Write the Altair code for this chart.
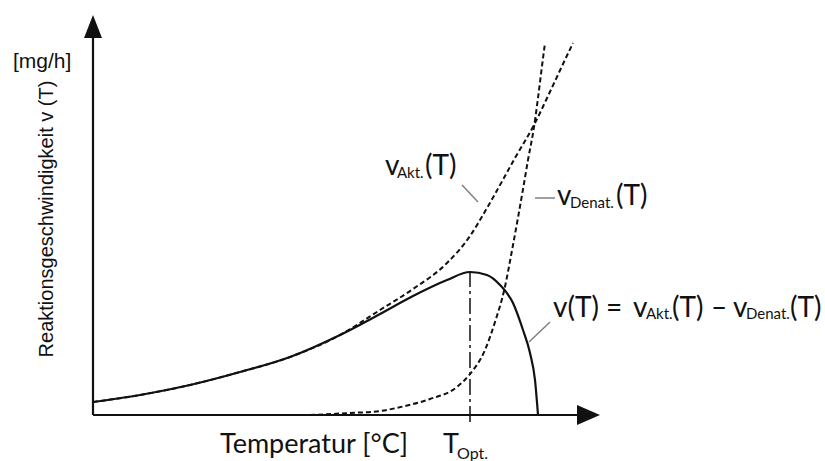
import altair as alt
import pandas as pd

# ---- curve samples (x: temperature units, y: rate units) ----
T_akt = [0, 47, 97, 147, 197, 247, 287, 320, 354, 377, 394, 402, 422, 441, 455, 470, 480]
v_akt = [13, 20, 30, 43, 58, 80, 105, 126, 152, 179, 207, 221, 257, 290, 319, 351, 372]

T_den = [217, 257, 287, 312, 337, 364, 377, 392, 402, 411, 420, 429, 435, 441, 445, 449, 452]
v_den = [0, 2, 4, 9, 16, 28, 41, 65, 93, 124, 170, 220, 255, 288, 317, 349, 372]

T_sum = [0, 47, 97, 147, 197, 247, 287, 320, 354, 377, 394, 407, 420, 430, 437, 442, 445]
v_sum = [13, 20, 30, 43, 58, 80, 101, 119, 135, 143, 140, 130, 112, 85, 62, 35, 0]

T_opt = [377]
T_opt_lo = [-7]
T_opt_hi = [142]

# axis extents (tips of the arrows)
axis_x_end = 507
axis_y_end = 400

# leader lines (x, y, x2, y2)
lead_x = [369, 442, 436]
lead_y = [230, 217, 73]
lead_x2 = [385, 462, 457]
lead_y2 = [213, 217, 93]

# label pieces (left x, baseline y)
lbl_text = ["v", "Akt.", "(T)",
            "v", "Denat.", "(T)",
            "v(T)", "=", "v", "Akt.", "(T)", "\u2013", "v", "Denat.", "(T)",
            "Temperatur [\u00b0C]", "T", "Opt."]
lbl_x = [292, 304, 332,
         464, 477, 523,
         460, 513, 540, 553, 579, 618, 640, 653, 697,
         127, 350, 364]
lbl_y = [240, 237, 240,
         210, 207, 210,
         98, 98, 98, 96, 98, 98, 98, 96, 98,
         -38, -38, -44]
lbl_size = [28, 15, 28,
            28, 15, 28,
            28, 28, 28, 15, 28, 28, 28, 15, 28,
            27, 27, 16]

XS = alt.Scale(domain=[-93, 732], nice=False, zero=False)
YS = alt.Scale(domain=[-46, 415], nice=False, zero=False)


def xy(xf="T", yf="v"):
    return dict(x=alt.X(f"{xf}:Q", scale=XS, axis=None),
                y=alt.Y(f"{yf}:Q", scale=YS, axis=None))


ink = "#111111"

akt = pd.DataFrame({"T": T_akt, "v": v_akt})
den = pd.DataFrame({"T": T_den, "v": v_den})
tot = pd.DataFrame({"T": T_sum, "v": v_sum})

l_akt = alt.Chart(akt).mark_line(color=ink, strokeWidth=2, strokeDash=[5, 3],
                                 interpolate="monotone").encode(**xy())
l_den = alt.Chart(den).mark_line(color=ink, strokeWidth=2, strokeDash=[5, 3],
                                 interpolate="monotone").encode(**xy())
l_tot = alt.Chart(tot).mark_line(color=ink, strokeWidth=2.2,
                                 interpolate="monotone").encode(**xy())

opt = pd.DataFrame({"T": T_opt, "lo": T_opt_lo, "hi": T_opt_hi})
r_opt = alt.Chart(opt).mark_rule(color=ink, strokeWidth=1.5, strokeDash=[16, 4, 3, 4]).encode(
    x=alt.X("T:Q", scale=XS, axis=None),
    y=alt.Y("lo:Q", scale=YS, axis=None),
    y2="hi:Q")

axes = pd.DataFrame({"x": [0, 0], "y": [0, 0],
                     "x2": [0, axis_x_end - 18], "y2": [axis_y_end - 18, 0]})
r_axes = alt.Chart(axes).mark_rule(color=ink, strokeWidth=2.2).encode(
    x=alt.X("x:Q", scale=XS, axis=None), y=alt.Y("y:Q", scale=YS, axis=None),
    x2="x2:Q", y2="y2:Q")

up = alt.Chart(pd.DataFrame({"x": [0], "y": [axis_y_end]})).mark_point(
    shape="M0,0L-0.9,2.3L0.9,2.3Z", size=400, filled=True, color=ink, opacity=1).encode(
    x=alt.X("x:Q", scale=XS, axis=None), y=alt.Y("y:Q", scale=YS, axis=None))
right = alt.Chart(pd.DataFrame({"x": [axis_x_end], "y": [0]})).mark_point(
    shape="M0,0L-2.3,-1L-2.3,1Z", size=400, filled=True, color=ink, opacity=1).encode(
    x=alt.X("x:Q", scale=XS, axis=None), y=alt.Y("y:Q", scale=YS, axis=None))

leads = pd.DataFrame({"x": lead_x, "y": lead_y, "x2": lead_x2, "y2": lead_y2})
r_leads = alt.Chart(leads).mark_rule(color="#808080", strokeWidth=1.5).encode(
    x=alt.X("x:Q", scale=XS, axis=None), y=alt.Y("y:Q", scale=YS, axis=None),
    x2="x2:Q", y2="y2:Q")

lbl = pd.DataFrame({"t": lbl_text, "x": lbl_x, "y": lbl_y, "s": lbl_size})
t_lbl = alt.Chart(lbl).mark_text(align="left", baseline="alphabetic", font="Lato",
                                 color=ink).encode(
    x=alt.X("x:Q", scale=XS, axis=None), y=alt.Y("y:Q", scale=YS, axis=None),
    text="t:N", size=alt.Size("s:Q", scale=None, legend=None))

ytitle = alt.Chart(pd.DataFrame({"x": [-40], "y": [196], "t": ["Reaktionsgeschwindigkeit  v (T)"]})).mark_text(
    angle=270, align="center", baseline="alphabetic", font="Liberation Sans", fontSize=20,
    color=ink).encode(
    x=alt.X("x:Q", scale=XS, axis=None), y=alt.Y("y:Q", scale=YS, axis=None), text="t:N")

unit = alt.Chart(pd.DataFrame({"x": [-80], "y": [347], "t": ["[mg/h]"]})).mark_text(
    align="left", baseline="alphabetic", font="Liberation Sans", fontSize=21,
    color=ink).encode(
    x=alt.X("x:Q", scale=XS, axis=None), y=alt.Y("y:Q", scale=YS, axis=None), text="t:N")

chart = alt.layer(r_axes, up, right, r_opt, l_den, l_akt, l_tot, r_leads, t_lbl, ytitle, unit).properties(
    width=825, height=461, padding=0, autosize="none", background="white"
).configure_view(stroke=None)

chart.save("out.html", embed_options={"renderer": "svg", "actions": False})
